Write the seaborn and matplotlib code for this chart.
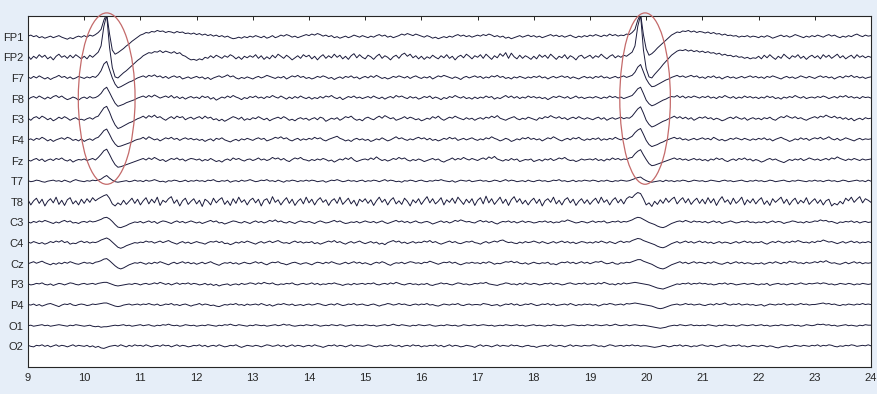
import numpy as np
import pandas as pd
import matplotlib
matplotlib.use("Agg")
import matplotlib.pyplot as plt
from matplotlib.patches import Ellipse
import seaborn as sns

# ---------------- data (µV, sampled at 20 Hz from 9.0 s to 24.0 s, one line per second) ----------------
T_START = 9.0
FS = 20.0
channels = ["FP1", "FP2", "F7", "F8", "F3", "F4", "Fz", "T7",
            "T8", "C3", "C4", "Cz", "P3", "P4", "O1", "O2"]

FP1 = [1, 3, 0, 2, -2, 0, -3, -1, 1, -2, 0, 2, -1, -3, -5, -2, -4, -1, 1, -1,
       2, -1, 3, 1, 4, 8, 14, 32, 44, 6, -26, -34, -31, -27, -23, -18, -14, -9, -5, -1,
       3, 5, 8, 7, 10, 9, 12, 10, 11, 8, 10, 9, 7, 10, 8, 9, 6, 7, 5, 7,
       4, 6, 3, 5, 2, 4, 1, 3, 0, 2, -1, 1, -2, -4, -3, -1, -3, 0, -2, 1,
       -1, 2, 0, -2, 1, -3, -1, 2, -2, 0, 3, 1, 4, 2, -1, 1, -2, 0, 2, 4,
       2, 5, 3, 6, 4, 1, 3, 0, 2, -2, 0, -3, -1, 1, -2, 0, 3, 1, -1, 2,
       0, -2, 1, -1, 2, 4, 1, 3, -1, 1, -2, 0, 2, 5, 3, 6, 4, 2, 5, 3,
       1, -1, 2, 0, -3, -1, -4, -2, 0, -2, 1, -1, 2, 4, 1, 3, 0, 2, -1, 1,
       3, 1, 4, 2, 5, 3, 0, 2, -1, 1, -3, -1, -4, -2, 0, 2, -1, 1, 3, 0,
       2, -1, 1, -2, 0, 2, 4, 1, 3, 0, 2, -1, 1, 3, 0, -2, 1, -1, 2, 0,
       3, 1, 4, 2, 0, 3, 1, 5, 2, 4, 1, 3, 2, 5, 4, 8, 14, 32, 44, 4,
       -24, -36, -33, -28, -22, -17, -12, -7, -2, 3, 6, 9, 8, 11, 10, 12, 9, 11, 8, 10,
       9, 7, 9, 6, 8, 5, 6, 3, 5, 2, 3, 1, 2, -1, 1, 0, 2, -1, 1, 0,
       -2, 1, -1, 2, 0, -3, -1, 1, 3, 0, 2, -1, 1, 4, 2, 0, -2, 1, -1, 2,
       0, 3, 1, -1, 2, 4, 1, 3, 0, -2, 1, -1, 2, 0, 3, 5, 2, 0, 3, 1,
       2]
FP2 = [3, -4, 2, -2, 5, 0, 4, -3, 1, -5, 2, 6, 0, 3, -2, 4, -1, 5, 1, -3,
       2, -3, 4, 0, 5, 10, 22, 60, 82, 20, -20, -38, -40, -35, -30, -26, -21, -16, -11, -6,
       -2, 3, 6, 9, 8, 11, 10, 13, 9, 12, 10, 8, 11, 7, 9, 4, 2, -2, -5, -4,
       -6, -3, -5, 0, -2, 3, -1, 4, 1, -2, 3, 0, 5, 2, -3, 1, -4, 2, -1, 3,
       0, 5, -2, 3, -4, 1, -3, 4, -1, 6, 2, -2, 4, 0, -5, -1, 3, -2, 5, 1,
       4, -3, 2, -5, 1, 5, -2, 3, -1, 6, 0, 4, -3, 2, -4, 3, 7, -1, 5, 0,
       -3, 4, 1, -4, 2, 6, -2, 3, 0, -5, 1, 4, -2, 5, 8, 2, 6, -1, 3, -3,
       2, -4, 1, -2, 4, 0, -3, 3, -1, 5, -2, 2, -5, 1, 4, -1, 6, 2, -3, 3,
       0, 5, -2, 6, 1, -4, 3, -1, 7, 2, 9, -2, 8, 1, -3, 4, -2, 3, 0, -4,
       2, -3, 5, 0, 4, -2, 6, 1, -4, 2, -1, 5, -3, 3, 0, -5, 2, 4, -2, 1,
       4, -2, 3, 0, 6, 1, -3, 2, 5, -1, 3, 0, 4, 2, 6, 10, 22, 60, 82, 15,
       -22, -38, -40, -33, -27, -21, -14, -8, -2, 4, 8, 12, 14, 13, 15, 12, 14, 11, 13, 10,
       12, 9, 11, 8, 9, 6, 8, 4, 6, 3, 4, 1, 3, 0, 1, -2, 0, -3, -1, -2,
       2, -3, 4, -1, 5, 0, -4, 2, -2, 6, 1, -3, 3, 0, 5, -2, 2, -4, 1, 4,
       -1, 3, -3, 5, 0, 4, -2, 2, 6, -1, 3, -3, 1, 4, -2, 5, 0, 3, -1, 2,
       0]
F7 = [2, -1, 3, 0, 4, 1, -2, 1, -3, 0, 2, 5, 1, 3, -1, 2, -2, 0, 3, 1,
      -1, 2, 0, 3, 1, 6, 14, 27, 32, 16, 0, -12, -19, -17, -14, -11, -8, -6, -3, 0,
      2, 4, 1, 5, 3, 6, 2, 4, 0, 3, -1, 2, 4, 1, 3, -2, 0, 2, -1, 1,
      3, 0, 2, -2, 1, -3, 0, 2, 4, 1, 3, 6, 2, 4, 0, -2, 1, -1, 2, 0,
      -2, 1, 3, 0, 2, 5, 3, 1, -1, 2, 0, 3, -2, 1, 4, 2, 5, 1, 3, -1,
      1, -2, 0, 3, 1, 4, 2, -1, 1, -3, 0, 2, -1, 3, 1, 4, 0, 2, -2, 1,
      3, 0, 4, 1, 5, 2, -1, 1, -2, 0, 3, 1, 4, 2, 0, 3, -1, 2, 4, 1,
      -1, 2, 0, 3, -2, 1, 4, 2, 5, 3, 1, -1, 2, 0, -3, 1, 3, 0, 2, 4,
      1, 3, -1, 2, 0, 4, 2, 5, 1, 3, -1, 1, -2, 2, 0, 3, 1, -1, 2, 0,
      3, 1, 4, 0, 2, -2, 1, 3, 0, 2, 4, 1, 3, -1, 2, 0, -2, 1, 3, 0,
      2, -1, 3, 1, 4, 0, 2, -1, 1, 3, 0, 2, 4, 1, 3, 5, 11, 21, 26, 12,
      -2, -11, -17, -16, -13, -10, -7, -4, -2, 1, 3, 5, 2, 4, 1, 3, 5, 2, 4, 0,
      2, -1, 3, 1, 4, 0, 2, -2, 1, 3, 0, 2, -1, 1, 3, 0, 2, 4, 1, 3,
      0, 2, -1, 3, 1, 4, 2, 0, -2, 1, 3, 0, 2, -1, 1, 4, 2, 0, 3, 1,
      -1, 2, 4, 1, 3, 0, 2, -2, 1, 3, 0, 4, 2, 5, 1, 3, 0, 2, -1, 1,
      2]
F8 = [-2, 2, 4, 1, 5, 2, -1, 3, 0, 4, 6, 2, 5, 1, -2, 0, 3, 1, -3, 1,
      3, 0, 4, 1, 2, 5, 10, 18, 22, 12, 1, -9, -15, -13, -11, -8, -6, -4, -2, 1,
      3, 5, 2, 6, 3, 7, 4, 1, 3, 5, 2, 6, 1, 4, 0, 3, -1, 2, 4, 1,
      3, 0, 5, 2, 4, -1, 2, -3, 0, 3, 1, 5, 2, 6, 3, 1, -2, 2, 0, 4,
      2, 5, 1, 3, 0, 4, 2, 6, 3, 1, 5, 2, -1, 3, 0, 4, 1, 5, 2, 0,
      3, -1, 2, 0, 4, 1, 5, 3, 6, 2, 0, 3, -2, 1, 4, 2, 5, 1, 3, 0,
      2, 4, 1, 5, 2, 0, 3, -1, 2, 4, 1, 6, 3, 5, 2, 0, 4, 1, 3, -1,
      1, 4, 2, 5, 0, 3, 1, -2, 2, 0, 4, 2, 6, 3, 1, 4, 0, 2, -1, 3,
      0, 3, 1, 5, 2, 4, -1, 2, 0, 3, 6, 2, 5, 1, 4, 0, 3, 1, 5, 2,
      4, 1, 3, 0, 2, -2, 1, 4, 2, 5, 3, 1, 4, 0, 2, 5, 1, 3, 0, 2,
      3, 1, 4, 2, 0, 3, 1, 5, 2, 4, 1, 3, 0, 2, 4, 6, 12, 19, 22, 10,
      -3, -10, -14, -12, -9, -6, -3, -1, 2, 4, 3, 6, 2, 5, 1, 4, 2, 5, 3, 1,
      4, 2, 5, 1, 3, 0, 4, 2, 6, 3, 1, 4, 0, 3, 1, 5, 2, 4, 1, 3,
      0, 3, 1, 5, 2, 4, 0, 2, -1, 3, 1, 4, 2, 6, 3, 1, 4, 0, 2, 3,
      1, 4, 2, 5, 3, 0, 2, 4, 1, 5, 3, 6, 2, 4, 1, 3, 0, 4, 2, 3,
      1]
F3 = [2, -2, 3, 5, 1, 6, 3, -1, 2, -3, 0, 4, 1, 5, 2, -2, 1, 3, -1, 0,
      -2, 1, 3, 0, 4, 6, 14, 22, 25, 14, 0, -11, -18, -16, -13, -10, -7, -5, -2, 1,
      3, 6, 2, 7, 4, 8, 3, 5, 1, -2, 2, 5, 1, 6, 3, 5, -1, 2, 4, 0,
      3, 5, 1, 6, 2, 4, -1, 1, -3, 0, -4, -1, 2, 5, 3, 0, 4, -2, 1, -1,
      3, 1, 5, 2, -1, 2, -3, 0, 2, 4, 1, 5, 2, -2, 0, -3, 1, 3, 0, 2,
      -2, 1, 3, -1, 4, 2, -4, -1, 2, 0, 3, -2, 1, 5, 3, 6, 1, -2, 0, -3,
      2, 4, 1, -1, 3, 6, 2, 7, 4, 1, 3, -2, 0, 2, 5, 1, 4, 2, -1, 1,
      -3, -1, 2, 0, 5, 2, 6, 1, -2, 1, 4, 2, 6, 3, 1, -1, 3, 0, 2, -2,
      1, 3, 0, 4, 2, 6, 3, 7, 2, 0, -2, 1, 3, 5, 1, -1, 2, 0, 4, 2,
      0, -2, 3, 1, 5, 3, 7, 4, 2, 5, 1, 3, -1, 2, 4, 1, 5, 2, 0, 3,
      1, -1, 2, 4, 0, 3, -2, 1, 3, 0, 2, 4, 1, 3, 2, 6, 13, 20, 24, 12,
      -2, -10, -15, -13, -10, -7, -4, -2, 1, 3, 6, 2, 5, 1, 4, 0, 3, -2, 1, 4,
      2, 5, 1, 3, -1, 2, 0, -3, -1, 2, 4, 1, 5, 2, 0, 3, -2, 1, 3, 0,
      2, -1, 3, 1, 4, 0, -2, 2, 5, 3, 7, 4, 2, 5, 1, 3, 0, -2, 1, 3,
      5, 2, 6, 4, 8, 5, 3, 6, 2, 4, 0, 3, -1, 2, -3, 0, 2, -1, 3, 1,
      2]
F4 = [0, 2, -1, 3, 1, 5, 2, -2, 1, -3, 0, 2, 4, 1, 5, 3, -1, 1, -2, 2,
      -3, 0, 2, -1, 3, 5, 11, 18, 21, 11, 0, -8, -13, -12, -10, -8, -6, -4, -1, 1,
      2, 5, 1, 6, 3, 0, 2, -2, 1, 4, 2, 5, 1, 3, -1, 2, 4, 1, 3, 0,
      2, -1, 1, -3, 0, 2, -2, 3, 1, 4, 0, -2, -4, -1, 1, -2, 2, 0, 3, 1,
      -1, 2, 4, 1, 3, -2, 0, 2, 5, 3, 6, 2, 4, 0, -2, 1, 3, -1, 2, 0,
      3, 1, 5, 2, 4, 0, -2, 1, 3, 5, 7, 3, 1, -2, 0, -3, 1, 3, 0, 2,
      -1, 1, -3, -1, 2, 0, 4, 1, -2, 0, 3, 6, 2, 4, 1, -1, 2, 0, 3, 5,
      2, 4, 0, 3, -1, 1, -2, 0, 3, 1, 5, 2, 4, -1, 1, 3, 0, 2, 4, 1,
      -1, 2, 0, 4, 2, 6, 3, 1, -2, 0, 3, 1, -3, -1, 2, 0, 4, 2, 5, 1,
      3, 0, 2, -2, 1, 4, 2, 6, 3, 0, -2, 1, 3, 0, 4, 2, 5, 1, -1, 2,
      0, 3, 1, 4, -1, 2, 0, 3, 1, 5, 2, 0, 3, 1, 4, 7, 14, 19, 22, 11,
      -1, -9, -13, -11, -9, -6, -4, -1, 1, 3, 5, 2, 4, 0, 2, -1, 1, 3, 0, 2,
      4, 1, 3, 0, 5, 2, -1, 1, -2, 0, 3, 1, 4, 2, 0, 3, 1, -1, 2, 0,
      3, 1, 4, 0, 2, -2, 1, 3, 5, 2, 0, -3, -1, 2, 0, 4, 1, 3, -1, 2,
      4, 2, 5, 1, 3, 6, 2, 0, 3, -1, 1, 4, 2, 0, -2, 1, 3, 0, 2, 1,
      2]
Fz = [1, -1, 2, 4, 0, 3, -2, 1, 3, 0, 4, 2, 5, 1, -1, 2, -3, 0, 2, 1,
      3, 0, 2, 4, 1, 6, 12, 19, 22, 12, 1, -8, -13, -12, -10, -8, -6, -4, -2, 0,
      2, 4, 1, 5, 2, 6, 3, 0, 2, -2, 1, 4, 2, 5, 1, 3, -1, 2, 4, 3,
      1, 3, -1, 2, 0, 4, 1, -2, 0, -3, 1, 3, 0, 5, 2, 4, 1, -1, 2, 3,
      0, 2, 5, 1, 3, 0, 2, 6, 3, 5, 1, 4, 0, -2, 2, 5, 3, 6, 2, 1,
      -1, 2, 0, 3, 1, 4, 2, -1, 1, -3, 0, 3, 1, 5, 2, 6, 1, -2, 0, 2,
      3, 1, 5, 2, 7, 3, 0, 2, -1, 1, 4, 2, 6, 3, 5, 1, -1, 2, 0, 3,
      1, -2, 0, 2, 4, 1, 3, -1, -3, 0, 2, 5, 1, 4, 2, 6, 3, 1, 4, 2,
      0, 3, 5, 2, 7, 4, 8, 3, 1, -1, 2, 0, 4, 1, 3, -2, 0, 2, 1, 3,
      -2, 0, 2, -1, 3, 1, 4, 0, 2, 5, 3, 6, 2, 0, 1, -2, 0, 3, 1, 2,
      3, 1, 4, 0, 2, -1, 3, 1, 5, 2, 4, 1, 3, 2, 5, 6, 13, 18, 21, 11,
      2, -6, -10, -9, -7, -5, -3, -1, 1, 3, 5, 2, 4, 1, 3, 0, 2, 4, 1, 3,
      0, 2, -1, 3, 1, 5, 2, 4, 0, -2, 1, 3, 0, 4, 2, 5, 1, 3, -1, 2,
      0, -3, -1, 2, 4, 1, 3, 0, -2, -4, -1, 2, 0, 3, 1, 4, 0, 2, 5, 3,
      1, 3, 0, 2, 4, 1, 5, 3, 7, 4, 2, 0, 3, 1, 4, 2, 0, 3, 1, 2,
      3]
T7 = [1, -1, 0, 2, 1, -1, -2, 0, 1, 2, 0, 1, -1, 2, 0, -2, 1, 3, 1, 0,
      -1, 1, 0, 2, 1, 2, 4, 8, 11, 6, 2, -1, -2, -1, 0, 1, -1, 0, 2, 0,
      1, -1, 2, 0, 1, 3, 1, -1, 0, -2, 1, 0, 2, 1, -1, 0, 2, -1, 1, 0,
      2, 0, 1, -1, 2, 1, 3, 0, -1, 1, 0, 2, -2, 0, 1, -1, 2, 0, 1, 3,
      1, -1, 0, 2, 1, 3, 0, 1, -1, 2, 0, -2, 1, 0, 2, 1, -1, 1, 0, 2,
      0, 2, 1, -1, 0, 1, -2, 0, 2, 1, 3, 1, -1, 0, 2, 0, 1, -1, 1, 2,
      -1, 1, 0, 2, 1, -1, 1, 3, 0, 2, 1, -1, 0, -2, 1, 0, 2, 1, -1, 1,
      2, 0, -1, 1, 0, 2, 1, 3, 1, 0, -1, 1, -2, 0, 2, 1, 0, 2, -1, 0,
      1, 2, 0, 1, -1, 0, 2, 1, -1, 1, 3, 0, 2, 1, -1, 0, 1, -1, 2, 0,
      -1, 1, 2, 0, 1, -1, 0, 2, 1, 3, 0, 1, -1, 0, 2, -1, 1, 0, 2, 1,
      0, 2, 1, -1, 1, 0, 2, 0, -1, 1, 0, 2, 1, 0, 1, 3, 5, 7, 8, 4,
      1, -1, -2, -1, 0, 1, -1, 2, 0, 1, -1, 1, 0, 2, 1, -1, 0, 2, 1, 0,
      1, -1, 0, 2, 1, 0, -1, 1, 2, 0, 1, -1, 0, 1, 2, 0, -1, 1, 0, 2,
      0, 1, -1, 0, 2, 1, -1, 0, 1, 2, 0, -1, 1, 0, 2, 1, 0, -1, 1, 0,
      2, 0, 1, -1, 1, 2, 0, 1, -1, 0, 2, 1, -1, 0, 1, 2, 0, 1, -1, 2,
      0]
T8 = [4, -6, 2, 7, -3, 5, -8, 1, 6, -2, 9, -5, 3, -7, 4, 8, -4, 2, -6, 5,
      -3, 6, -1, 8, 2, 6, 9, 12, 14, 7, -4, -8, -2, -6, 3, -5, 1, 7, -3, 5,
      -6, 2, 8, -4, 5, -2, 9, -7, 3, -1, 6, 10, -3, 4, -8, 2, 7, -5, 1, 6,
      -4, 3, -9, 5, 1, -6, 7, -2, 4, 8, -5, 2, -7, 6, -3, 9, -1, 4, -6, 3,
      7, -2, 5, -8, 3, 6, -4, 10, -1, 4, -6, 2, 8, -3, 5, -7, 1, 6, -4, 9,
      -2, 5, -6, 3, 8, -1, 4, -7, 2, 6, -3, 9, -5, 1, 7, -4, 3, -8, 5, 0,
      6, -3, 4, -7, 2, 9, -1, 5, -6, 3, 8, -4, 2, -5, 7, 1, -8, 4, -2, 6,
      -5, 3, 10, -2, 6, -4, 1, 8, -6, 4, -1, 7, -3, 9, 2, -5, 5, -2, 6, -7,
      3, 8, -4, 11, -2, 6, -5, 2, 9, -3, 5, -7, 4, 10, -1, 6, -4, 3, -6, 2,
      7, -3, 5, -8, 2, 6, -1, 9, -4, 3, -6, 4, 8, -2, 5, -7, 1, 6, -3, 4,
      -5, 2, 7, -3, 9, -1, 4, -6, 3, 8, -2, 5, -4, 6, 10, 8, 14, 18, 16, 6,
      -6, -2, -9, 1, -5, 4, -3, 7, -1, 5, 9, -4, 3, 8, -2, 6, -5, 2, 7, -3,
      5, -4, 8, -2, 6, -7, 3, 10, -1, 4, -5, 7, -3, 2, 9, -6, 4, -2, 6, -4,
      3, 8, -5, 2, -7, 6, -1, 4, 9, -3, 5, -6, 2, 7, -4, 3, -2, 8, -5, 1,
      6, -3, 4, -6, 2, 5, -8, -3, -6, 1, -4, 7, 2, 9, -1, 5, 10, -2, 6, 3,
      -1]
C3 = [1, -1, 2, 0, 3, 1, 4, 2, 0, -2, 1, -1, 2, 4, 1, 3, -1, 0, -2, 1,
      2, 0, 3, 1, 2, 4, 6, 9, 10, 7, 2, -4, -9, -10, -8, -6, -3, -1, 1, 0,
      2, -1, 1, 3, 0, 2, -2, 1, 3, 2, 0, -2, 1, 3, 0, 2, -1, 1, 3, 1,
      -1, 1, -2, 0, 2, 4, 1, 3, -1, 0, -3, -1, 1, 3, 2, 0, -1, 2, 0, -2,
      1, 3, 0, 2, -1, 1, 4, 2, 5, 1, 3, 0, -1, 2, 0, -2, 1, 3, 1, 0,
      2, 0, -2, 1, 3, 1, -1, 0, 2, 4, 1, 3, 0, -2, -1, 1, 0, 2, -1, 1,
      3, 1, 0, 2, -1, 1, 3, 0, -2, 0, 2, 4, 1, 3, 0, 2, -1, 1, 3, 0,
      -1, 1, 2, 0, -3, -1, 1, 3, 0, 2, -1, 1, 4, 2, 5, 3, 1, 2, 0, -1,
      2, 4, 1, 3, 0, 2, -1, -3, 0, 2, 1, 3, 0, 2, -1, 1, 3, 0, 2, 1,
      -1, 0, 2, 1, 3, 0, 2, -1, 1, 0, 3, 2, 5, 3, 1, -1, 0, 2, 1, -1,
      1, 3, 0, 2, 1, 3, -1, 0, 2, 1, 3, 0, 2, 1, 3, 5, 8, 10, 9, 6,
      3, 0, -2, -4, -7, -9, -10, -8, -5, -2, 0, 2, 3, 1, 4, 2, 0, 3, 1, 2,
      0, 2, -1, 1, 3, 0, 2, -2, 0, 1, 3, 1, -1, 0, 2, 1, 3, 0, 1, -1,
      1, 0, 2, -1, 1, 3, 0, 2, 1, -2, 0, 1, 3, 2, 0, 1, -1, 2, 0, 1,
      3, 2, 5, 3, 4, 1, 2, 0, -2, 1, 0, 2, 1, 3, 0, 2, -1, 1, 2, 0,
      1]
C4 = [2, 0, 3, 1, -1, 1, -2, 0, 3, 1, 4, 2, 5, 1, 3, -2, 0, -1, 2, 4,
      1, 3, 0, 2, 1, 3, 6, 8, 10, 7, 2, -3, -8, -10, -8, -5, -3, -1, 1, 0,
      2, 1, 4, 2, 3, 0, 2, 4, 1, 3, 5, 2, 0, -2, 1, 3, 0, 2, -1, 1,
      3, 1, 0, -2, 1, 3, 2, 4, 1, 3, -1, 0, -3, -1, 2, 0, 3, 1, 4, 2,
      0, -2, 1, 3, 0, 2, 4, 1, 3, 5, 2, 0, 1, -1, 2, 4, 1, 3, 0, 2,
      1, 3, -1, 1, -2, 0, 2, 4, 2, 5, 1, 3, 0, -2, 1, 3, 0, 2, 4, 1,
      -1, 1, 3, 0, 2, -2, 0, -3, 1, 3, 5, 2, 4, 0, 2, -1, 1, 3, 0, 2,
      1, 4, 2, 5, 1, 3, 0, -2, 0, 2, 4, 1, 3, 0, -1, 1, 3, 2, 4, 1,
      0, -2, 1, 3, 0, 2, 4, 2, 5, 6, 3, 1, 2, 0, -1, 2, 0, 3, 1, 2,
      4, 2, 0, 3, 1, -1, 1, 3, 0, 2, 4, 1, 3, 0, 2, -1, 1, 3, 2, 0,
      2, 0, 3, 1, 4, 2, 0, 3, 1, -1, 2, 4, 1, 3, 2, 5, 7, 9, 8, 5,
      3, 1, -1, -3, -6, -8, -9, -7, -4, -1, 1, 3, 0, 2, 4, 1, 3, 0, 2, 4,
      1, 3, 0, 2, -1, 1, 3, 0, 2, 1, -1, 1, 3, 0, 2, 4, 1, 3, 0, 2,
      1, 3, 0, -2, 1, 3, 1, 4, 2, 0, 3, 1, 4, 2, 5, 3, 1, 2, 0, 3,
      1, 4, 3, 6, 4, 2, 3, 1, -1, 1, 3, 0, 2, 4, 1, 3, 0, 2, 1, 3,
      1]
Cz = [0, 2, 4, 1, 3, 5, 2, 0, -2, 1, -1, 2, 0, 3, 1, 4, 2, 0, -1, 1,
      3, 1, 2, 0, 3, 4, 6, 9, 10, 6, 1, -4, -8, -10, -8, -5, -2, 0, 2, 1,
      3, 1, -1, 2, 0, 3, 1, 4, 2, 0, -2, 1, 3, 0, 2, 4, 1, 3, 0, 2,
      -1, 1, 3, 0, 2, 4, 1, -1, -3, 0, 2, 1, 3, 0, 2, -1, 1, 3, 1, 0,
      2, 4, 1, 3, 0, -2, 1, 3, 2, 4, 1, 0, -2, 0, 2, 3, 1, -1, 1, 2,
      0, -2, 1, 3, 2, 0, 3, 1, 4, 2, 0, -1, 1, 3, 0, 2, 4, 1, 3, 0,
      2, 0, -2, 1, 3, 1, 4, 2, -1, -3, 0, 2, 1, 3, 0, 2, 4, 3, 1, 2,
      0, 3, 2, 5, 3, 1, -1, 1, 3, 2, 4, 1, 3, 0, -2, 0, 2, 1, 3, 1,
      2, 0, 3, 1, 4, 2, -1, 1, 0, 2, 4, 3, 5, 2, 4, 1, 0, 2, -1, 1,
      3, 1, 0, 2, 1, 3, -1, 0, -2, 1, 3, 2, 4, 1, 3, 0, 2, 4, 1, 3,
      0, 2, 4, 3, 5, 2, 0, 1, 3, 0, -1, 2, 1, 3, 2, 4, 6, 8, 8, 5,
      3, 1, -1, -4, -7, -9, -10, -8, -5, -2, 0, 2, 4, 1, 3, 0, 2, 4, 1, 3,
      2, 0, 3, 1, 4, 2, 0, -1, 1, 3, 0, 2, 4, 1, 3, 0, 2, 1, -1, 1,
      0, 2, -1, 1, 3, 1, 4, 2, 0, 3, 1, 5, 3, 4, 1, 2, 0, 3, 1, 2,
      4, 2, 5, 3, 6, 3, 1, 2, 0, -1, 1, 3, 0, 2, 4, 1, 3, 0, 2, 1,
      2]
P3 = [1, -1, 0, 2, 1, 3, 0, -1, 1, -2, 0, 2, 1, -1, 1, 3, 2, 0, -1, 1,
      2, 0, 1, 2, 0, 2, 3, 4, 4, 2, 0, -2, -3, -2, -1, 0, 1, 0, 2, 1,
      -1, 1, 2, 0, 1, 3, 1, 4, 2, 0, 2, -1, 1, 3, 0, 2, 1, 3, 0, 2,
      1, -1, 0, 2, -1, 1, -2, 0, -3, -1, 0, 1, -2, 0, 1, -1, 2, 0, 1, 3,
      2, 0, 3, 1, 4, 2, 1, 3, 0, -1, 1, 0, 2, 1, 3, 0, -1, 1, 2, 0,
      1, 3, 0, 2, -1, 1, 0, 2, 1, 3, 1, 0, -2, 0, 1, -1, 2, 0, 1, 2,
      0, 2, 1, 3, 0, -1, 1, 2, 0, 3, 1, 4, 2, 0, -1, 1, 2, 0, 1, -1,
      1, 0, 2, -1, -2, 0, 1, 3, 1, 2, 0, -1, 1, 3, 2, 0, 1, -1, 0, 2,
      1, 3, 2, 4, 1, 0, -1, -2, 0, 1, 3, 2, 0, 1, -1, 2, 0, 3, 1, 0,
      2, 1, -1, 0, 2, 1, 3, 0, 2, 1, -1, 0, 2, 3, 1, 0, 2, 1, 3, 0,
      1, 2, 0, 3, 1, 4, 2, 0, 1, -1, 2, 0, 3, 1, 2, 3, 4, 3, 2, 1,
      0, -1, -3, -5, -7, -8, -9, -7, -5, -3, -1, 1, 0, 2, 1, 3, 0, 2, 1, 3,
      1, 2, 0, 1, -1, 0, 2, 1, 3, 0, 2, 1, -1, 0, 1, 2, 0, 1, 2, 0,
      -1, 1, 0, 2, -2, 0, 1, 2, 0, 1, -1, 1, 2, 0, 1, 3, 1, 0, 2, 1,
      2, 3, 1, 3, 2, 0, 1, -1, 0, 2, 1, 0, 2, 1, -1, 1, 0, 2, 1, 0,
      1]
P4 = [1, 0, 2, -1, 1, -2, 0, 2, 3, 1, -1, -3, 0, 2, 1, 3, 0, -1, 1, 2,
      1, -1, 0, 2, 1, 2, 3, 4, 4, 2, 0, -2, -3, -2, 0, 1, 2, 0, 1, 2,
      0, 2, 1, 3, 1, 0, 2, -1, 0, 2, 1, 3, 0, 1, -1, 1, 2, 0, -2, 0,
      1, 3, 0, 2, 1, -1, 0, -2, -3, -1, 1, 0, 2, 1, 3, 0, 1, -1, 2, 0,
      1, 2, 0, 3, 1, -1, 1, -2, 0, 2, 1, 3, 1, 0, 2, -1, 0, 1, -1, 1,
      2, 0, 1, 3, 2, 0, -1, 1, 2, 0, 3, 1, -1, 0, 2, 1, 3, 0, 1, 2,
      0, -1, 1, 2, 0, -2, 0, 1, 3, 2, 0, 1, 3, 1, 2, 0, -1, 1, 2, 0,
      2, 1, 3, 0, 1, -1, -2, 0, 2, 1, 0, 2, 1, 3, 0, -1, 1, 2, 0, 1,
      1, 0, 3, 2, 1, -1, 0, 1, -2, 0, 2, 1, 3, 0, 2, -1, 0, 2, 1, 3,
      1, -1, 0, 2, 1, 3, 0, 2, -1, 0, 1, 2, 0, 3, 1, -1, 1, 0, 2, 1,
      2, 0, 1, -2, 0, 2, 1, 3, 2, 0, 1, 2, 0, 3, 2, 3, 4, 3, 2, 1,
      0, -1, -2, -4, -6, -7, -6, -4, -2, 0, 1, 2, 0, 1, 3, 1, 2, 0, 1, 2,
      0, -1, 1, 2, 0, 3, 1, 2, 4, 1, 0, 2, 1, 3, 0, 1, 2, 0, 1, -1,
      0, 1, -2, 0, 2, 1, 0, 2, 1, 3, 0, 1, 2, 0, 1, 3, 1, 2, 0, 1,
      1, 2, 3, 4, 2, 3, 1, 2, 0, -1, 1, 0, 2, 1, 0, 2, 1, 3, 1, 2,
      1]
O1 = [0, 1, -1, 0, 1, 2, 0, 1, -1, 0, 1, 2, 1, 0, -1, 1, 0, 2, 1, 0,
      -1, 0, 1, -1, -2, -1, -3, -2, -2, -1, 0, 1, 0, 1, 2, 0, 1, -1, 0, 1,
      2, 0, 1, 2, 0, -1, 1, 0, 2, 1, 3, 1, 0, 1, -1, 0, 2, 1, 0, 1,
      -1, 0, 1, 0, 2, 1, 0, -1, 1, 0, 2, 1, 3, 1, 0, 2, 1, 0, -1, 1,
      0, 2, 1, 0, 1, -1, 0, 1, 2, 0, 1, 3, 1, 2, 0, -1, 0, 1, 0, 2,
      1, 0, 2, 1, -1, 0, 1, 0, 2, 1, 0, 2, 1, -1, 0, 1, 2, 0, 1, 0,
      2, 1, 0, 1, -1, 0, 1, 2, 0, 1, 3, 1, 0, 2, 1, 0, -1, 1, 0, 2,
      1, 0, 1, 2, 0, -1, 0, 1, 0, 2, 1, 0, 1, -1, 0, 2, 1, 0, 1, 2,
      0, 1, 2, 1, 0, 1, -1, 0, 1, 0, 2, 1, 0, 1, 2, 0, 1, -1, 0, 1,
      2, 0, 1, 0, -1, 1, 0, 2, 1, 0, 1, -1, 0, 1, 2, 1, 0, 1, 0, 2,
      1, 0, 2, 1, 0, 1, 2, 0, 1, 3, 1, 0, 1, 2, 0, 1, 2, 1, 0, 1,
      0, -1, -2, -3, -4, -5, -4, -3, -1, 0, 1, 0, 2, 1, 0, 1, 2, 0, 1, 0,
      1, 0, 2, 1, 0, -1, 1, 0, 2, 1, 0, 1, -1, 0, 2, 1, 0, 1, 2, 0,
      1, 2, 0, 1, -1, 0, 1, 0, 2, 1, 0, 1, 2, 0, 1, -1, 0, 2, 1, 0,
      1, 3, 2, 3, 1, 2, 0, 1, -1, 0, 1, 2, 0, 1, 0, -1, 1, 0, 2, 1,
      1]
O2 = [2, 0, -1, 2, 1, 3, 0, 2, -1, 1, 3, 0, 2, 1, -1, 1, 3, 0, 2, 1,
      0, 2, -1, 1, -2, 0, -3, -4, -2, 0, 1, 2, 0, 3, 1, -1, 2, 0, 3, 1,
      2, 0, 3, 1, -1, 1, 2, 0, 3, 1, 2, -1, 1, 3, 0, 2, 1, -1, 0, 2,
      1, 3, 0, 2, -1, 1, 2, 0, 3, 1, -1, 0, 2, 1, 3, 0, -2, 0, 2, 1,
      0, 2, 1, -1, 1, 3, 2, 0, 1, 3, 0, 2, -1, 1, 3, 0, 2, 1, -1, 1,
      2, 0, 3, 1, 0, -2, 0, 2, 1, 3, 0, 2, 1, -1, 1, 3, 0, 2, 1, 0,
      1, 3, 2, 0, -1, 1, 0, 2, 1, 3, 1, 0, 2, -1, 1, 2, 0, 3, 1, 2,
      -1, 1, 0, 2, 1, 3, 0, 2, -1, 1, 3, 0, 2, 1, -1, 0, 2, 1, 0, -2,
      1, 3, 0, 2, 1, -1, 1, 3, 0, 2, 1, 0, 3, 1, 2, 0, -1, 1, 2, 0,
      0, -2, 0, 1, 2, 0, 3, 1, 0, 2, 1, -1, 1, 3, 0, 2, 1, 0, 2, 1,
      1, 3, 2, 0, 1, -1, 1, 3, 2, 0, 1, 2, 0, 2, 1, 3, 1, 2, 0, 1,
      1, 0, -1, -2, -1, 0, 2, 1, -1, 0, 2, 1, 3, 0, 2, 1, -1, 1, 0, 2,
      3, 1, 0, 2, 1, -1, 0, 2, 3, 1, 0, 2, 1, 3, 0, 1, -1, 0, 2, 1,
      0, 2, 1, -1, 1, 0, -2, -3, -1, 0, 1, -1, 0, 2, 1, 0, 2, 1, 0, 2,
      1, 3, 0, 2, 1, 3, 2, 0, -1, 1, 0, 2, 1, 3, 2, 0, 1, 2, 1, 3,
      1]

signals = [FP1, FP2, F7, F8, F3, F4, Fz, T7, T8, C3, C4, Cz, P3, P4, O1, O2]

x_ticks = [9, 10, 11, 12, 13, 14, 15, 16, 17, 18, 19, 20, 21, 22, 23, 24]

# blink annotations (time centre, time width) for the red ellipses
blink_times = [10.40, 19.98]
blink_widths = [1.01, 0.90]

bad = [(n, len(s)) for n, s in zip(channels, signals) if len(s) != 301]
assert not bad, f"length mismatch: {bad}"

# ---------------- style ----------------
SPACING = 40.0          # µV between traces
TRACE_COLOR = "#1b1b3c"
BG = "#e6eef8"

sns.set_style("white")
plt.rcParams["font.family"] = ["Liberation Sans", "DejaVu Sans"]

rows = []
for i, (name, vals) in enumerate(zip(channels, signals)):
    for k, v in enumerate(vals):
        rows.append({"time": T_START + k / FS, "channel": name,
                     "pos": -(i + 1) + v / SPACING})
df = pd.DataFrame(rows)

fig = plt.figure(figsize=(8.77, 3.94), dpi=100, facecolor=BG)
ax = fig.add_axes([28 / 877, 27 / 394, 843 / 877, 351 / 394])
ax.set_facecolor("white")

sns.lineplot(data=df, x="time", y="pos", hue="channel",
             palette=[TRACE_COLOR] * len(channels), legend=False,
             estimator=None, linewidth=0.7, ax=ax)

ax.set_xlim(9, 24)
ax.set_ylim(-len(channels) - 1, 0)
ax.set_xticks(x_ticks)
ax.set_xticklabels([str(t) for t in x_ticks])
ax.set_yticks([-(i + 1) for i in range(len(channels))])
ax.set_yticklabels(channels)
ax.set_xlabel("")
ax.set_ylabel("")
ax.tick_params(axis="both", direction="in", length=3, width=0.7,
               labelsize=8, colors="#262626", top=True, right=True, pad=4)
ax.tick_params(axis="y", length=0, pad=3)
for s in ax.spines.values():
    s.set_color("#262626")
    s.set_linewidth(0.8)

for c, w in zip(blink_times, blink_widths):
    e = Ellipse((c, -4.0), w, 8.3, fill=False, edgecolor="#c46a6a",
                linewidth=0.9, clip_on=False, zorder=5)
    ax.add_patch(e)

fig.savefig("out.png", dpi=100, facecolor=BG)
